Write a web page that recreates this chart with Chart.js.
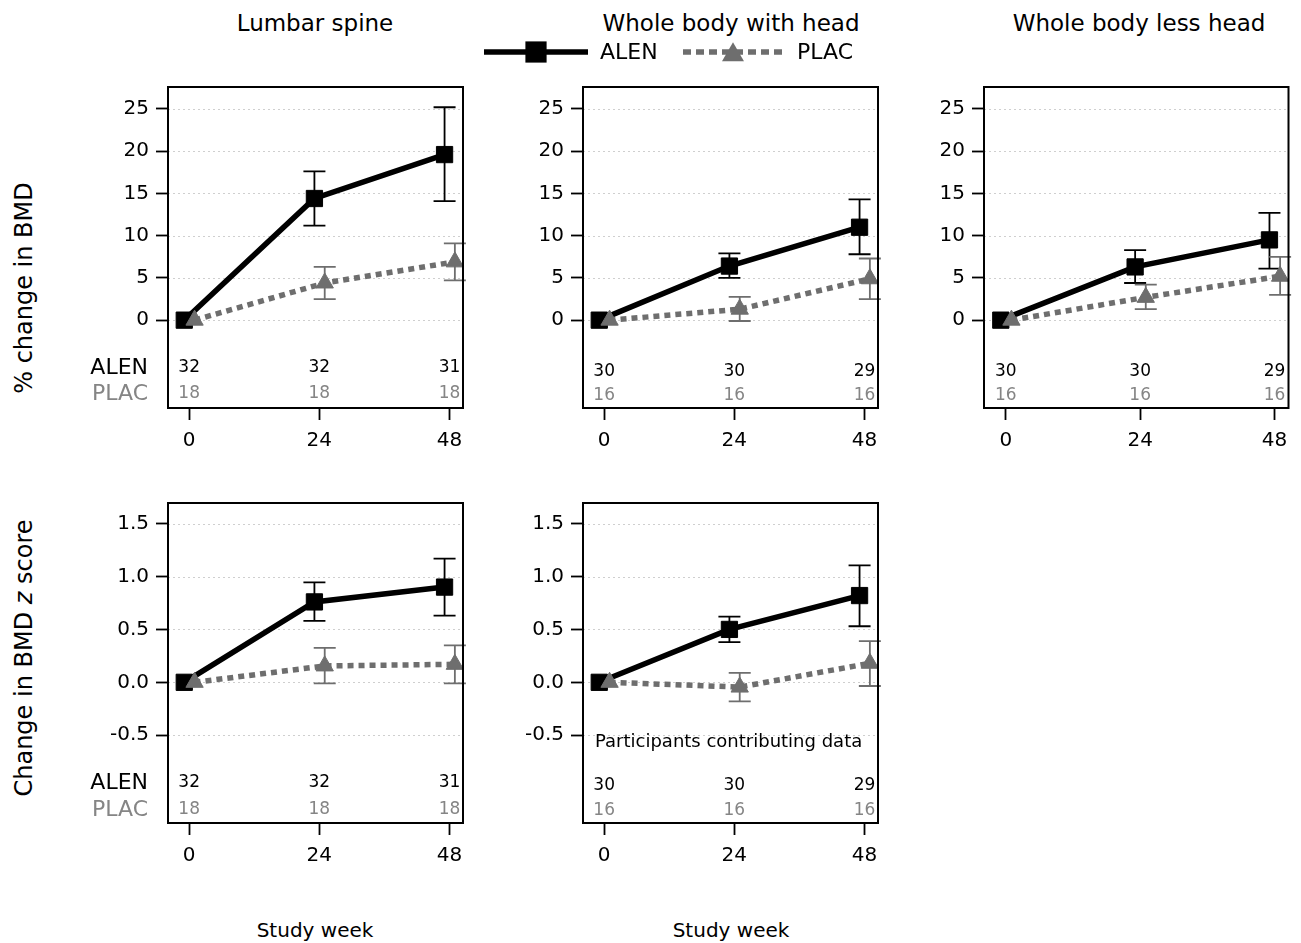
<!DOCTYPE html>
<html>
<head>
<meta charset="utf-8">
<script src="https://cdn.jsdelivr.net/npm/chart.js@4.4.1/dist/chart.umd.min.js"></script>
<style>
  body { margin: 0; background: #fff; }
  #wrap { position: relative; width: 1301px; height: 943px; overflow: hidden; font-family: 'DejaVu Sans', sans-serif; color: #000; }
  #wrap canvas { position: absolute; left: 0; top: 0; }
  .lbl { position: absolute; white-space: nowrap; line-height: 1; transform: translate(-50%, -50%); }
  .ytitle { position: absolute; white-space: nowrap; line-height: 1; font-size: 24px; transform: translate(-50%, -50%) rotate(-90deg); }
</style>
</head>
<body>
<div id="wrap">
  <div class="lbl" style="left:315px; top:23px; font-size:23px">Lumbar spine</div>
  <div class="lbl" style="left:731px; top:23px; font-size:23px">Whole body with head</div>
  <div class="lbl" style="left:1139px; top:23px; font-size:23px">Whole body less head</div>
  <div class="ytitle" style="left:24px; top:288px">% change in BMD</div>
  <div class="ytitle" style="left:24px; top:658px">Change in BMD <i>z</i> score</div>
  <div class="lbl" style="left:315px; top:930px; font-size:20px">Study week</div>
  <div class="lbl" style="left:731px; top:930px; font-size:20px">Study week</div>
  <canvas id="p1" width="1301" height="943"></canvas>
  <canvas id="p2" width="1301" height="943"></canvas>
  <canvas id="p3" width="1301" height="943"></canvas>
  <canvas id="p4" width="1301" height="943"></canvas>
  <canvas id="p5" width="1301" height="943"></canvas>
</div>
<script>
Chart.defaults.font.family = 'DejaVu Sans';
Chart.defaults.color = '#000';

// Data
const WEEKS = [0, 24, 48];
const X_TICKS = [0, 24, 48];
const PCT_TICKS = [0, 5, 10, 15, 20, 25];
const Z_TICKS = [-0.5, 0, 0.5, 1.0, 1.5];

// Lumbar spine, % change
const LS_PCT_ALEN = [0, 14.4, 19.6];
const LS_PCT_ALEN_LO = [null, 11.2, 14.1];
const LS_PCT_ALEN_HI = [null, 17.6, 25.2];
const LS_PCT_PLAC = [0, 4.4, 6.9];
const LS_PCT_PLAC_LO = [null, 2.5, 4.7];
const LS_PCT_PLAC_HI = [null, 6.3, 9.1];

// Whole body with head, % change
const WBH_PCT_ALEN = [0, 6.4, 11.0];
const WBH_PCT_ALEN_LO = [null, 5.0, 7.8];
const WBH_PCT_ALEN_HI = [null, 7.9, 14.3];
const WBH_PCT_PLAC = [0, 1.3, 4.9];
const WBH_PCT_PLAC_LO = [null, -0.1, 2.5];
const WBH_PCT_PLAC_HI = [null, 2.75, 7.3];

// Whole body less head, % change
const WBL_PCT_ALEN = [0, 6.3, 9.5];
const WBL_PCT_ALEN_LO = [null, 4.4, 6.1];
const WBL_PCT_ALEN_HI = [null, 8.3, 12.7];
const WBL_PCT_PLAC = [0, 2.7, 5.2];
const WBL_PCT_PLAC_LO = [null, 1.3, 3.0];
const WBL_PCT_PLAC_HI = [null, 4.2, 7.5];

// Lumbar spine, z score change
const LS_Z_ALEN = [0, 0.76, 0.90];
const LS_Z_ALEN_LO = [null, 0.58, 0.63];
const LS_Z_ALEN_HI = [null, 0.945, 1.17];
const LS_Z_PLAC = [0, 0.155, 0.17];
const LS_Z_PLAC_LO = [null, -0.01, -0.01];
const LS_Z_PLAC_HI = [null, 0.325, 0.35];

// Whole body with head, z score change
const WBH_Z_ALEN = [0, 0.50, 0.82];
const WBH_Z_ALEN_LO = [null, 0.38, 0.53];
const WBH_Z_ALEN_HI = [null, 0.62, 1.105];
const WBH_Z_PLAC = [0, -0.045, 0.18];
const WBH_Z_PLAC_LO = [null, -0.18, -0.035];
const WBH_Z_PLAC_HI = [null, 0.09, 0.39];

// Participants contributing data
const N_LS_ALEN = [32, 32, 31];
const N_LS_PLAC = [18, 18, 18];
const N_WB_ALEN = [30, 30, 29];
const N_WB_PLAC = [16, 16, 16];

// Styling constants
const W = 1301, H = 943;
const Y_AXIS_W = 70, X_AXIS_H = 50;
const GRAY = '#6e6e6e';
const LIGHT_GRAY = '#858585';
const ALEN_DODGE = -0.9;   // weeks, small horizontal offset between groups
const PLAC_DODGE = 1.0;

// Draws the gridlines, error bars, frame and the count rows of a panel
const panelDeco = {
    id: 'panelDeco',
    beforeDatasetsDraw(chart, args, opts) {
        const ctx = chart.ctx;
        const area = chart.chartArea;
        const y = chart.scales.y;
        // faint dotted gridlines
        ctx.save();
        ctx.strokeStyle = '#cfcfcf';
        ctx.lineWidth = 1;
        ctx.setLineDash([2, 3]);
        for (const t of y.ticks) {
            const py = Math.round(y.getPixelForValue(t.value)) + 0.5;
            ctx.beginPath();
            ctx.moveTo(area.left, py);
            ctx.lineTo(area.right, py);
            ctx.stroke();
        }
        ctx.setLineDash([]);
        // error bars
        chart.data.datasets.forEach((ds, di) => {
            const meta = chart.getDatasetMeta(di);
            ctx.strokeStyle = ds.errColor;
            ctx.lineWidth = 1.8;
            meta.data.forEach((pt, i) => {
                if (ds.errLo[i] == null) return;
                const lo = y.getPixelForValue(ds.errLo[i]);
                const hi = y.getPixelForValue(ds.errHi[i]);
                ctx.beginPath();
                ctx.moveTo(pt.x, lo); ctx.lineTo(pt.x, hi);
                ctx.moveTo(pt.x - 11, lo); ctx.lineTo(pt.x + 11, lo);
                ctx.moveTo(pt.x - 11, hi); ctx.lineTo(pt.x + 11, hi);
                ctx.stroke();
            });
        });
        ctx.restore();
    },
    afterDraw(chart, args, opts) {
        const ctx = chart.ctx;
        const area = chart.chartArea;
        const x = chart.scales.x;
        ctx.save();
        // frame
        ctx.strokeStyle = '#000';
        ctx.lineWidth = 2;
        ctx.strokeRect(area.left, area.top, area.right - area.left, area.bottom - area.top);
        // counts
        ctx.textAlign = 'center';
        ctx.textBaseline = 'middle';
        ctx.font = '17px "DejaVu Sans"';
        const yA = area.bottom - opts.rowOffsets[0];
        const yP = area.bottom - opts.rowOffsets[1];
        WEEKS.forEach((w, i) => {
            const px = x.getPixelForValue(w);
            ctx.fillStyle = '#000';
            ctx.fillText(String(opts.nAlen[i]), px, yA);
            ctx.fillStyle = LIGHT_GRAY;
            ctx.fillText(String(opts.nPlac[i]), px, yP);
        });
        if (opts.rowLabels) {
            ctx.textAlign = 'right';
            ctx.font = '22px "DejaVu Sans"';
            ctx.fillStyle = '#000';
            ctx.fillText('ALEN', area.left - 20, yA);
            ctx.fillStyle = LIGHT_GRAY;
            ctx.fillText('PLAC', area.left - 20, yP);
        }
        if (opts.note) {
            ctx.textAlign = 'left';
            ctx.font = '18px "DejaVu Sans"';
            ctx.fillStyle = '#000';
            ctx.fillText(opts.note, area.left + 12, area.bottom - 81);
        }
        ctx.restore();
    }
};

// Shared legend, drawn above the middle panel
const legendDeco = {
    id: 'legendDeco',
    afterDraw(chart) {
        const ctx = chart.ctx;
        const ly = 52;
        ctx.save();
        ctx.lineWidth = 5.5;
        ctx.strokeStyle = '#000';
        ctx.beginPath(); ctx.moveTo(484, ly); ctx.lineTo(588, ly); ctx.stroke();
        ctx.fillStyle = '#000';
        Chart.helpers.drawPoint(ctx, { pointStyle: 'rect', radius: 15, rotation: 0, borderWidth: 0 }, 536, ly);
        ctx.strokeStyle = GRAY;
        ctx.setLineDash([8, 5]);
        ctx.beginPath(); ctx.moveTo(683, ly); ctx.lineTo(782, ly); ctx.stroke();
        ctx.setLineDash([]);
        ctx.fillStyle = GRAY;
        Chart.helpers.drawPoint(ctx, { pointStyle: 'triangle', radius: 12.7, rotation: 0, borderWidth: 0 }, 733, ly + 3);
        ctx.font = '22px "DejaVu Sans"';
        ctx.textBaseline = 'middle';
        ctx.textAlign = 'left';
        ctx.fillStyle = '#000';
        ctx.fillText('ALEN', 600, ly + 1);
        ctx.fillText('PLAC', 797, ly + 1);
        ctx.restore();
    }
};

function makePanel(canvasId, box, yMin, yMax, yTicks, yFmt, s, deco, extraPlugins) {
    const toPts = (vals, dodge) => WEEKS.map((w, i) => ({ x: w + dodge, y: vals[i] }));
    new Chart(document.getElementById(canvasId), {
        type: 'line',
        data: {
            datasets: [{
                label: 'ALEN',
                data: toPts(s.alen, ALEN_DODGE),
                errLo: s.alenLo, errHi: s.alenHi, errColor: '#000',
                borderColor: '#000',
                borderWidth: 5.5,
                pointStyle: 'rect',
                pointRadius: 11.5,
                pointBorderWidth: 1,
                pointBackgroundColor: '#000',
                pointBorderColor: '#000',
                order: 2
            }, {
                label: 'PLAC',
                data: toPts(s.plac, PLAC_DODGE),
                errLo: s.placLo, errHi: s.placHi, errColor: GRAY,
                borderColor: GRAY,
                borderWidth: 5.5,
                borderDash: [6, 5],
                pointStyle: 'triangle',
                pointRadius: 10,
                pointBorderWidth: 1,
                pointBackgroundColor: GRAY,
                pointBorderColor: GRAY,
                order: 1
            }]
        },
        options: {
            responsive: false,
            animation: false,
            events: [],
            layout: {
                padding: { left: box.l - Y_AXIS_W, right: W - box.r, top: box.t, bottom: H - box.b - X_AXIS_H }
            },
            scales: {
                x: {
                    type: 'linear',
                    min: -3.9, max: 50.5,
                    afterBuildTicks: (sc) => { sc.ticks = X_TICKS.map(v => ({ value: v })); },
                    afterFit: (sc) => { sc.height = X_AXIS_H; },
                    ticks: { font: { size: 20 }, color: '#000', padding: 9, maxRotation: 0, autoSkip: false },
                    grid: { display: true, drawOnChartArea: false, drawTicks: true, tickLength: 12, tickColor: '#000', tickWidth: 1.8 },
                    border: { display: false }
                },
                y: {
                    min: yMin, max: yMax,
                    afterBuildTicks: (sc) => { sc.ticks = yTicks.map(v => ({ value: v })); },
                    afterFit: (sc) => { sc.width = Y_AXIS_W; },
                    ticks: { font: { size: 20 }, color: '#000', padding: 7, callback: yFmt },
                    grid: { display: true, drawOnChartArea: false, drawTicks: true, tickLength: 12, tickColor: '#000', tickWidth: 1.8 },
                    border: { display: false }
                }
            },
            plugins: {
                legend: { display: false },
                tooltip: { enabled: false },
                panelDeco: deco
            }
        },
        plugins: [panelDeco].concat(extraPlugins || [])
    });
}

const fmtPct = (v) => String(v);
const fmtZ = (v) => Number(v).toFixed(1);

makePanel('p1', { l: 168, r: 463, t: 87, b: 408 }, -10.4, 27.6, PCT_TICKS, fmtPct,
    { alen: LS_PCT_ALEN, alenLo: LS_PCT_ALEN_LO, alenHi: LS_PCT_ALEN_HI, plac: LS_PCT_PLAC, placLo: LS_PCT_PLAC_LO, placHi: LS_PCT_PLAC_HI },
    { nAlen: N_LS_ALEN, nPlac: N_LS_PLAC, rowOffsets: [40, 14], rowLabels: true });

makePanel('p2', { l: 583, r: 878, t: 87, b: 408 }, -10.4, 27.6, PCT_TICKS, fmtPct,
    { alen: WBH_PCT_ALEN, alenLo: WBH_PCT_ALEN_LO, alenHi: WBH_PCT_ALEN_HI, plac: WBH_PCT_PLAC, placLo: WBH_PCT_PLAC_LO, placHi: WBH_PCT_PLAC_HI },
    { nAlen: N_WB_ALEN, nPlac: N_WB_PLAC, rowOffsets: [36, 12], rowLabels: false },
    [legendDeco]);

makePanel('p3', { l: 984, r: 1293, t: 87, b: 408 }, -10.4, 27.6, PCT_TICKS, fmtPct,
    { alen: WBL_PCT_ALEN, alenLo: WBL_PCT_ALEN_LO, alenHi: WBL_PCT_ALEN_HI, plac: WBL_PCT_PLAC, placLo: WBL_PCT_PLAC_LO, placHi: WBL_PCT_PLAC_HI },
    { nAlen: N_WB_ALEN, nPlac: N_WB_PLAC, rowOffsets: [36, 12], rowLabels: false });

makePanel('p4', { l: 168, r: 463, t: 503, b: 823 }, -1.33, 1.695, Z_TICKS, fmtZ,
    { alen: LS_Z_ALEN, alenLo: LS_Z_ALEN_LO, alenHi: LS_Z_ALEN_HI, plac: LS_Z_PLAC, placLo: LS_Z_PLAC_LO, placHi: LS_Z_PLAC_HI },
    { nAlen: N_LS_ALEN, nPlac: N_LS_PLAC, rowOffsets: [40, 13], rowLabels: true });

makePanel('p5', { l: 583, r: 878, t: 503, b: 823 }, -1.33, 1.695, Z_TICKS, fmtZ,
    { alen: WBH_Z_ALEN, alenLo: WBH_Z_ALEN_LO, alenHi: WBH_Z_ALEN_HI, plac: WBH_Z_PLAC, placLo: WBH_Z_PLAC_LO, placHi: WBH_Z_PLAC_HI },
    { nAlen: N_WB_ALEN, nPlac: N_WB_PLAC, rowOffsets: [37, 12], rowLabels: false, note: 'Participants contributing data' });
</script>
</body>
</html>
